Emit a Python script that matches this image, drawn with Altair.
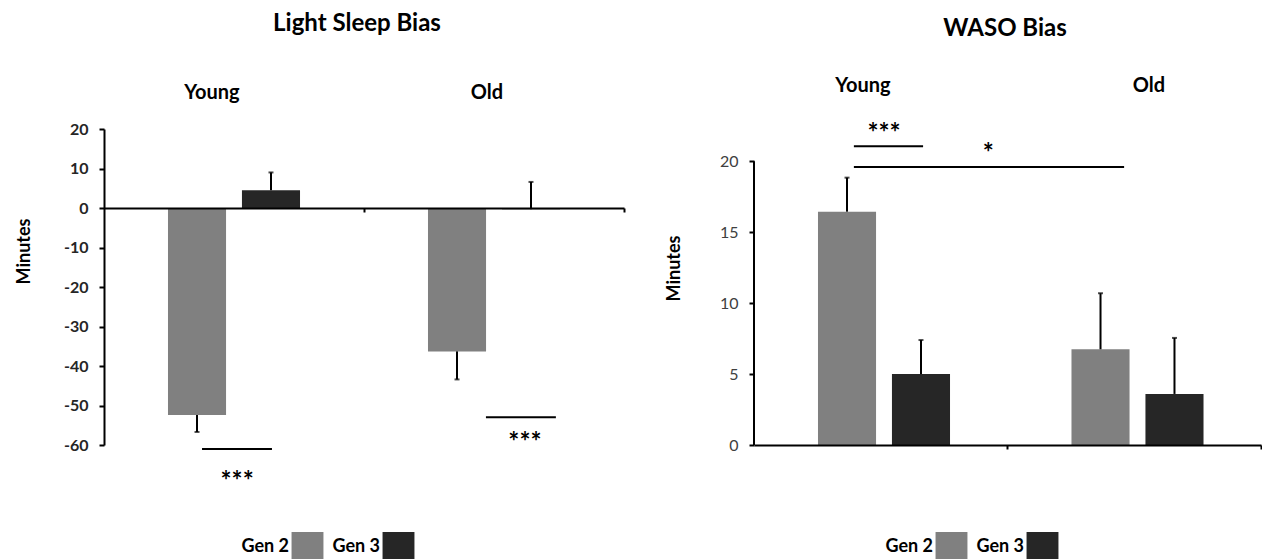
import altair as alt
import pandas as pd

FONT = "Lato"

AGES = ["Young", "Old"]
GENS = ["Gen 2", "Gen 3"]
GEN_COLORS = ["#808080", "#262626"]

# one row per bar: Young/Gen 2, Young/Gen 3, Old/Gen 2, Old/Gen 3
bar_age = ["Young", "Young", "Old", "Old"]
bar_gen = ["Gen 2", "Gen 3", "Gen 2", "Gen 3"]

# Light sleep bias (minutes): mean and far end of the error bar
light_mean = [-52.4, 4.5, -36.3, -0.3]
light_err_end = [-56.7, 9.0, -43.4, 6.6]

# WASO bias (minutes)
waso_mean = [16.45, 5.0, 6.75, 3.6]
waso_err_end = [18.85, 7.4, 10.7, 7.55]

light_ticks = [-60, -50, -40, -30, -20, -10, 0, 10, 20]
waso_ticks = [0, 5, 10, 15, 20]

# significance brackets; x in category units (0-1 = Young, 1-2 = Old)
light_sig_x0 = [0.377, 1.469]
light_sig_x1 = [0.646, 1.738]
light_sig_y = [-61.0, -53.0]
light_sig_label = ["***", "***"]
light_sig_label_x = [0.512, 1.619]
light_sig_label_y = [-67.3, -57.5]

waso_sig_x0 = [0.394, 0.394]
waso_sig_x1 = [0.667, 1.46]
waso_sig_y = [21.06, 19.6]
waso_sig_label = ["***", "*"]
waso_sig_label_x = [0.513, 0.924]
waso_sig_label_y = [22.5, 21.06]

# group headings above each panel, x in category units
light_group_x = [0.415, 1.473]
waso_group_x = [0.43, 1.558]

W_LEFT, W_RIGHT, H = 520, 507, 316


def neg_label():
    return "datum.value < 0 ? '-' + abs(datum.value) : '' + datum.value"


def make_panel(title, means, err_end, y_domain, ticks, axis_line_top,
               sig_x0, sig_x1, sig_y, sig_label, sig_label_x, sig_label_y,
               group_x, width, bold_ticks, x_axis_offset, title_pos,
               group_y, y_title_y, legend_x):
    bars_df = pd.DataFrame({"age": bar_age, "gen": bar_gen,
                            "mean": means, "err_end": err_end})
    sig_df = pd.DataFrame({"x0": sig_x0, "x1": sig_x1, "y": sig_y})
    sig_lab_df = pd.DataFrame({"x": sig_label_x, "y": sig_label_y,
                               "label": sig_label})
    group_df = pd.DataFrame({"x": group_x, "age": AGES})
    title_df = pd.DataFrame({"t": [title]})

    band = alt.Scale(paddingInner=0, paddingOuter=0)
    offset_scale = alt.Scale(paddingInner=0.215, paddingOuter=0.865)
    unit_scale = alt.Scale(domain=[0, 2], nice=False, zero=False)
    y_scale = alt.Scale(domain=y_domain, nice=False, zero=False)

    # the same axis definition goes on every layer so the merged axis keeps it
    y_axis = alt.Axis(
        values=ticks, tickCount=len(ticks), grid=False,
        domain=(axis_line_top is None),
        domainColor="black", domainWidth=2,
        tickColor="black", tickWidth=2, tickSize=5,
        labelPadding=11, labelFont=FONT, labelFontSize=16,
        labelFontWeight="bold" if bold_ticks else "normal",
        labelColor="#262626" if bold_ticks else "#404040",
        labelExpr=neg_label(), labelOverlap=False,
        title="Minutes", titleFont=FONT, titleFontSize=18,
        titleFontWeight="bold", titleColor="black",
        titleX=-75, titleY=y_title_y, titleBaseline="alphabetic",
        titleAngle=270, zindex=1,
    )
    x_axis = alt.Axis(
        orient="bottom", offset=x_axis_offset, labels=False, title=None,
        domainColor="black", domainWidth=2, tickColor="black",
        tickWidth=2, tickSize=4, bandPosition=1, grid=False, zindex=1,
    )
    # labels sit to the left of their swatches
    legend = alt.Legend(
        orient="none", legendX=legend_x, legendY=403, direction="horizontal",
        title=None, symbolType="M-1.1,-1H1.1V1H-1.1Z", symbolSize=29 * 29,
        symbolStrokeWidth=0, symbolOpacity=1,
        labelAlign="right", labelOffset=alt.ExprRef("-33"), columnPadding=8,
        labelFont=FONT, labelFontSize=18, labelFontWeight="bold",
        labelColor="black", padding=0,
    )

    base = alt.Chart(bars_df)
    band_x = alt.X("age:N", sort=AGES, scale=band, axis=None)
    off_enc = alt.XOffset("gen:N", sort=GENS, scale=offset_scale)

    bars = base.mark_bar().encode(
        x=alt.X("age:N", sort=AGES, scale=band, axis=x_axis),
        xOffset=off_enc,
        y=alt.Y("mean:Q", scale=y_scale, axis=y_axis),
        color=alt.Color("gen:N", scale=alt.Scale(domain=GENS, range=GEN_COLORS),
                        legend=legend),
    )
    whiskers = base.mark_rule(color="black", strokeWidth=2).encode(
        x=band_x, xOffset=off_enc,
        y=alt.Y("mean:Q", scale=y_scale, axis=y_axis), y2="err_end:Q",
    )
    caps = base.mark_tick(color="black", size=5, thickness=2).encode(
        x=band_x, xOffset=off_enc,
        y=alt.Y("err_end:Q", scale=y_scale, axis=y_axis),
    )
    sig_lines = alt.Chart(sig_df).mark_rule(color="black", strokeWidth=2).encode(
        x=alt.X("x0:Q", scale=unit_scale, axis=None), x2="x1:Q",
        y=alt.Y("y:Q", scale=y_scale, axis=y_axis),
    )
    sig_text = alt.Chart(sig_lab_df).mark_text(
        font=FONT, fontSize=26, fontWeight="bold", color="black",
        baseline="middle", dy=8,
    ).encode(
        x=alt.X("x:Q", scale=unit_scale, axis=None),
        y=alt.Y("y:Q", scale=y_scale, axis=y_axis), text="label:N",
    )
    groups = alt.Chart(group_df).mark_text(
        font=FONT, fontSize=20, fontWeight="bold", color="black",
        baseline="alphabetic",
    ).encode(
        x=alt.X("x:Q", scale=unit_scale, axis=None), y=alt.value(group_y),
        text="age:N",
    )
    heading = alt.Chart(title_df).mark_text(
        font=FONT, fontSize=24, fontWeight="bold", color="black",
        baseline="alphabetic",
    ).encode(
        x=alt.value(title_pos[0]), y=alt.value(title_pos[1]), text="t:N",
    )
    layers = [bars, whiskers, caps, sig_lines, sig_text, groups, heading]
    if axis_line_top is not None:
        y_line = alt.Chart(title_df).mark_rule(color="black", strokeWidth=2).encode(
            x=alt.value(0), y=alt.datum(0, scale=y_scale, axis=y_axis),
            y2=alt.datum(axis_line_top),
        )
        layers.append(y_line)
    return alt.layer(*layers).resolve_scale(x="independent").properties(
        width=width, height=H
    )


left = make_panel(
    "Light Sleep Bias", light_mean, light_err_end, [-60, 20], light_ticks, None,
    light_sig_x0, light_sig_x1, light_sig_y, light_sig_label,
    light_sig_label_x, light_sig_label_y, light_group_x, W_LEFT, True,
    -(H - H * 20 / 80), (253, -98), -30, 122, 189,
)
right = make_panel(
    "WASO Bias", waso_mean, waso_err_end, [0, 22.28], waso_ticks, 20,
    waso_sig_x0, waso_sig_x1, waso_sig_y, waso_sig_label,
    waso_sig_label_x, waso_sig_label_y, waso_group_x, W_RIGHT, False,
    0, (251, -93), -37, 139, 183,
)

chart = (
    alt.hconcat(left, right, spacing=40)
    .resolve_scale(color="independent")
    .properties(padding={"left": 15, "top": 12, "right": 0, "bottom": 0})
    .configure(font=FONT)
    .configure_view(stroke=None)
)

chart.save("out.html", embed_options={"renderer": "svg", "actions": False})
